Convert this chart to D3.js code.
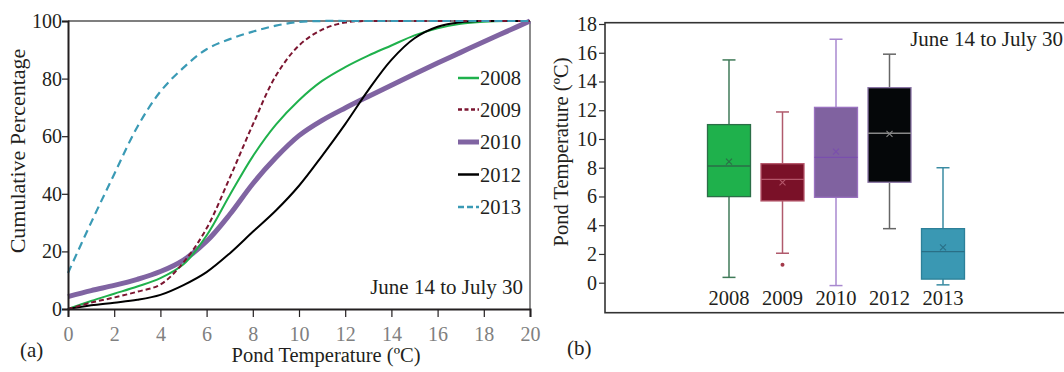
<!DOCTYPE html>
<html>
<head>
<meta charset="utf-8">
<script src="https://cdn.jsdelivr.net/npm/d3@7"></script>
<style>
  html, body { margin: 0; padding: 0; background: #fff; }
  svg { display: block; }
  text { font-family: "Liberation Serif", "Times New Roman", serif; fill: #231f20; }
</style>
</head>
<body>
<svg id="chart" width="1064" height="372"></svg>
<script>
// ---------- Data: panel (a) cumulative percentage curves ----------
const temps = [0,1,2,3,4,5,6,7,8,9,10,11,12,13,14,15,16,17,18,19,20];
const cum2008 = [0,2.8,5.3,7.8,10.7,15.5,25.5,39.5,53,64,72.5,79.2,84,88,91.5,95,97.5,99,99.7,100,100];
const cum2009 = [0,2.2,4,6,8.5,16.2,28,45.5,64,81,91.5,97,99.5,100,100,100,100,100,100,100,100];
const cum2010 = [4.3,6.4,8.2,10.3,13,17,23.5,32.8,43.5,52.6,60.2,65.5,69.8,73.8,77.7,81.6,85.4,89.1,92.8,96.4,100];
const cum2012 = [0,1.3,2.2,3.2,4.9,8.3,12.8,19.3,26.8,34.2,42.8,53.2,64.2,76,86.5,94,98,99.6,100,100,100];
const cum2013 = [12.5,30,46.8,63.2,75.5,83.8,90.2,93.7,96.3,98.4,99.7,100,100,100,100,100,100,100,100,100,100];
const seriesNames = ["2008","2009","2010","2012","2013"];
const xTicksA = [0,2,4,6,8,10,12,14,16,18,20];
const yTicksA = [0,20,40,60,80,100];

// ---------- Data: panel (b) box plots ----------
const years = ["2008","2009","2010","2012","2013"];
const whiskerLow  = [0.37, 2.05, -0.2, 3.76, -0.15];
const q1          = [5.99, 5.69, 5.94, 6.99, 0.25];
const median      = [8.12, 7.19, 8.72, 10.4, 2.16];
const q3          = [11.0, 8.28, 12.2, 13.57, 3.76];
const whiskerHigh = [15.5, 11.88, 16.94, 15.9, 8.0];
const means       = [8.42, 6.98, 9.12, 10.35, 2.46];
const outliers    = [[], [1.25], [], [], []];
const yTicksB = [0,2,4,6,8,10,12,14,16,18];

// ---------- Styles ----------
const lineStyle = {
  "2008": {color: "#1fb14c", width: 2,   dash: null},
  "2009": {color: "#7b1530", width: 2,   dash: "5,3"},
  "2010": {color: "#8064a2", width: 5,   dash: null},
  "2012": {color: "#000000", width: 2,   dash: null},
  "2013": {color: "#3a9ab5", width: 2.2, dash: "8,5"}
};
const boxStyle = {
  "2008": {fill: "#1fb14c", stroke: "#2b6e47", whisker: "#3f7a58", median: "#2b6e47", mean: "#2b6e47"},
  "2009": {fill: "#7a1128", stroke: "#b5566a", whisker: "#b05a6c", median: "#b5566a", mean: "#b5566a"},
  "2010": {fill: "#8062a0", stroke: "#9a72c0", whisker: "#a888cf", median: "#7a4fae", mean: "#7a4fae"},
  "2012": {fill: "#050709", stroke: "#8a74a6", whisker: "#666666", median: "#888888", mean: "#888888"},
  "2013": {fill: "#3a98b3", stroke: "#2d8099", whisker: "#3a8ba2", median: "#2a6f86", mean: "#2a6f86"}
};

const svg = d3.select("#chart");

// ================= Panel (a) =================
const xA = d3.scaleLinear().domain([0, 20]).range([68, 530]);
const yA = d3.scaleLinear().domain([0, 100]).range([309, 21]);

const gA = svg.append("g");
// top & right frame
gA.append("line").attr("x1", xA(0)).attr("x2", xA(20)).attr("y1", yA(100)).attr("y2", yA(100))
  .attr("stroke", "#555").attr("stroke-width", 1.5);
gA.append("line").attr("x1", xA(20)).attr("x2", xA(20)).attr("y1", yA(100)).attr("y2", yA(0))
  .attr("stroke", "#666").attr("stroke-width", 1.5);

const seriesData = {"2008": cum2008, "2009": cum2009, "2010": cum2010, "2012": cum2012, "2013": cum2013};
const line = d3.line().x((d, i) => xA(temps[i])).y(d => yA(Math.min(d, 100)))
  .curve(d3.curveCatmullRom.alpha(0.5));
["2010","2008","2012","2009","2013"].forEach(name => {
  const s = lineStyle[name];
  gA.append("path").datum(seriesData[name])
    .attr("d", line).attr("fill", "none")
    .attr("stroke", s.color).attr("stroke-width", s.width)
    .attr("stroke-dasharray", s.dash);
});

// axes
const axA_x = gA.append("g").attr("transform", `translate(0,${yA(0)})`)
  .call(d3.axisBottom(xA).tickValues(xTicksA).tickSize(8).tickPadding(10).tickFormat(d3.format("d")));
axA_x.select(".domain").attr("stroke", "#231f20").attr("stroke-width", 2);
axA_x.selectAll(".tick line").attr("stroke", "#231f20").attr("stroke-width", 1.2);
axA_x.selectAll(".tick text").attr("font-size", 20).attr("font-family", "Liberation Serif").style("fill", "#808080");

const axA_y = gA.append("g").attr("transform", `translate(${xA(0)},0)`)
  .call(d3.axisLeft(yA).tickValues(yTicksA).tickSize(6).tickPadding(0).tickFormat(d3.format("d")));
axA_y.select(".domain").attr("stroke", "#231f20").attr("stroke-width", 2);
axA_y.selectAll(".tick line").attr("stroke", "#231f20").attr("stroke-width", 1.2);
axA_y.selectAll(".tick text").attr("font-size", 20).attr("font-family", "Liberation Serif").style("fill", "#231f20");

// legend
const legendY = [78, 109.5, 142, 174.5, 207];
seriesNames.forEach((name, i) => {
  const s = lineStyle[name];
  gA.append("line").attr("x1", 458).attr("x2", 479).attr("y1", legendY[i]).attr("y2", legendY[i])
    .attr("stroke", s.color).attr("stroke-width", name === "2010" ? 5 : 2.5)
    .attr("stroke-dasharray", name === "2009" ? "4,2.5" : (name === "2013" ? "6,3" : null));
  gA.append("text").attr("x", 480).attr("y", legendY[i] + 7).attr("font-size", 20.5).text(name);
});

gA.append("text").attr("x", 523).attr("y", 294).attr("text-anchor", "end").attr("font-size", 21)
  .text("June 14 to July 30");
gA.append("text").attr("x", 326).attr("y", 362).attr("text-anchor", "middle").attr("font-size", 20.5)
  .text("Pond Temperature (ºC)");
gA.append("text").attr("transform", "translate(25,151) rotate(-90)").attr("text-anchor", "middle")
  .attr("font-size", 22).text("Cumulative Percentage");
gA.append("text").attr("x", 20).attr("y", 357).attr("font-size", 21).text("(a)");

// ================= Panel (b) =================
const yB = d3.scaleLinear().domain([0, 18]).range([282.7, 24]);
const xB = d3.scalePoint().domain(years).range([729, 943]);
const boxW = 43, capW = 13;
const frame = {left: 605, top: 22.7, bottom: 312.7, right: 1070};

const gB = svg.append("g");
gB.append("rect").attr("x", frame.left).attr("y", frame.top)
  .attr("width", frame.right - frame.left).attr("height", frame.bottom - frame.top)
  .attr("fill", "none").attr("stroke", "#333").attr("stroke-width", 1.6);

const axB_y = gB.append("g").attr("transform", `translate(${frame.left},0)`)
  .call(d3.axisLeft(yB).tickValues(yTicksB).tickSize(6).tickPadding(2).tickFormat(d3.format("d")));
axB_y.select(".domain").remove();
axB_y.selectAll(".tick line").attr("stroke", "#333").attr("stroke-width", 1.2);
axB_y.selectAll(".tick text").attr("font-size", 20).attr("font-family", "Liberation Serif").style("fill", "#231f20");

years.forEach((yr, i) => {
  const st = boxStyle[yr];
  const cx = xB(yr);
  const g = gB.append("g");
  // whiskers
  g.append("line").attr("x1", cx).attr("x2", cx).attr("y1", yB(whiskerHigh[i])).attr("y2", yB(q3[i]))
    .attr("stroke", st.whisker).attr("stroke-width", 1.5);
  g.append("line").attr("x1", cx).attr("x2", cx).attr("y1", yB(q1[i])).attr("y2", yB(whiskerLow[i]))
    .attr("stroke", st.whisker).attr("stroke-width", 1.5);
  [whiskerHigh[i], whiskerLow[i]].forEach(v => {
    g.append("line").attr("x1", cx - capW / 2).attr("x2", cx + capW / 2).attr("y1", yB(v)).attr("y2", yB(v))
      .attr("stroke", st.whisker).attr("stroke-width", 1.5);
  });
  // box
  g.append("rect").attr("x", cx - boxW / 2).attr("y", yB(q3[i]))
    .attr("width", boxW).attr("height", yB(q1[i]) - yB(q3[i]))
    .attr("fill", st.fill).attr("stroke", st.stroke).attr("stroke-width", 1.3);
  // median
  g.append("line").attr("x1", cx - boxW / 2).attr("x2", cx + boxW / 2).attr("y1", yB(median[i])).attr("y2", yB(median[i]))
    .attr("stroke", st.median).attr("stroke-width", 1.3);
  // mean marker
  const my = yB(means[i]), m = 3;
  g.append("path").attr("d", `M${cx - m},${my - m}L${cx + m},${my + m}M${cx - m},${my + m}L${cx + m},${my - m}`)
    .attr("stroke", st.mean).attr("stroke-width", 1.1);
  // outliers
  outliers[i].forEach(v => {
    g.append("circle").attr("cx", cx).attr("cy", yB(v)).attr("r", 2).attr("fill", "#a33a4a");
  });
  // category label
  gB.append("text").attr("x", cx).attr("y", 305).attr("text-anchor", "middle").attr("font-size", 20.5).text(yr);
});

gB.append("text").attr("x", 1063).attr("y", 46).attr("text-anchor", "end").attr("font-size", 21)
  .text("June 14 to July 30");
gB.append("text").attr("transform", "translate(568,152) rotate(-90)").attr("text-anchor", "middle")
  .attr("font-size", 20.5).text("Pond Temperature (ºC)");
gB.append("text").attr("x", 567).attr("y", 355).attr("font-size", 21).text("(b)");
</script>
</body>
</html>
